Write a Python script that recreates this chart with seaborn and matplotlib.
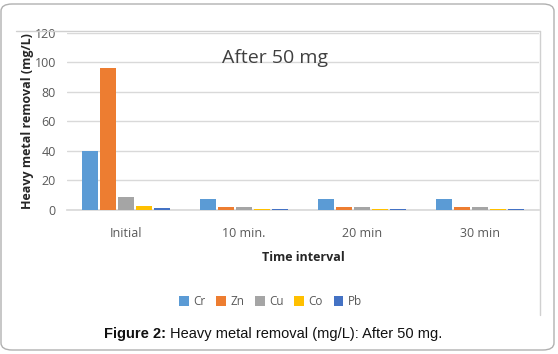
import numpy as np
import pandas as pd
import seaborn as sns
import matplotlib.pyplot as plt
from matplotlib.patches import FancyBboxPatch
from matplotlib.lines import Line2D

# --- Data ---
intervals = ["Initial", "10 min.", "20 min", "30 min"]
metals = ["Cr", "Zn", "Cu", "Co", "Pb"]
cr = [40, 7.5, 7.5, 7.5]
zn = [96, 2.2, 2.2, 2.2]
cu = [9, 2.0, 2.0, 2.0]
co = [3, 0.8, 0.8, 0.8]
pb = [1.6, 1.0, 1.0, 1.0]
colors = ["#5B9BD5", "#ED7D31", "#A5A5A5", "#FFC000", "#4472C4"]

# --- Long-form table ---
records = []
for metal, vals in zip(metals, [cr, zn, cu, co, pb]):
    for t, v in zip(intervals, vals):
        records.append((t, metal, v))
df = pd.DataFrame(records, columns=["interval", "metal", "value"])

# --- Figure ---
sns.set_theme(style="white")
plt.rcParams["font.family"] = ["Open Sans", "DejaVu Sans"]
fig = plt.figure(figsize=(5.58, 3.54), dpi=100)
ax = fig.add_axes([0.12, 0.4068, 0.846, 0.50])

sns.barplot(data=df, x="interval", y="value", hue="metal", order=intervals,
            hue_order=metals, palette=colors, width=0.763, gap=0.15,
            saturation=1, linewidth=0, zorder=3, ax=ax)

ax.set_ylim(0, 120)
ax.set_yticks(range(0, 121, 20))
ax.set_xlim(-0.5, 3.5)
ax.yaxis.grid(True, color="#d9d9d9", linewidth=1)
ax.set_axisbelow(True)
for s in ["top", "right", "left"]:
    ax.spines[s].set_visible(False)
ax.spines["bottom"].set_color("#d9d9d9")
ax.spines["bottom"].set_zorder(0.5)
ax.tick_params(axis="both", length=0, labelsize=9, colors="#595959", pad=12)
ax.tick_params(axis="y", pad=8)

ax.set_xlabel("Time interval", fontsize=9, fontweight="bold", color="#262626",
              labelpad=8)
ax.set_ylabel("Heavy metal removal (mg/L)", fontsize=9, fontweight="bold",
              color="#262626", labelpad=0)
ax.text(0.44, 0.86, "After 50 mg", transform=ax.transAxes, ha="center",
        va="center", fontsize=14, color="#404040")

ax.legend(loc="center", bbox_to_anchor=(0.485, 0.148), bbox_transform=fig.transFigure,
          ncol=5, frameon=False, fontsize=8.5, handlelength=0.8, handleheight=1.0,
          columnspacing=0.9, handletextpad=0.4, labelcolor="#595959")

# --- Frames ---
W, H = 558, 354
fig.patches.append(FancyBboxPatch((1 / W, 4 / H), 553 / W, 346 / H,
                                  boxstyle="round,pad=0,rounding_size=0.02",
                                  transform=fig.transFigure, fill=False,
                                  edgecolor="#b0b0b0", linewidth=1))
fig.lines.append(Line2D([16 / W, 540 / W], [1 - 31 / H, 1 - 31 / H],
                        transform=fig.transFigure, color="#d0d0d0", linewidth=1))
fig.lines.append(Line2D([540 / W, 540 / W], [1 - 31 / H, 1 - 315 / H],
                        transform=fig.transFigure, color="#d0d0d0", linewidth=1))

# --- Caption ---
fig.text(0.186, 0.056, "Figure 2:", fontsize=10.5, fontweight="bold",
         family="Liberation Sans", color="#111111", va="center")
fig.text(0.305, 0.056, "Heavy metal removal (mg/L): After 50 mg.", fontsize=10.5,
         family="Liberation Sans", color="#111111", va="center")

fig.savefig("out.png", dpi=100)
